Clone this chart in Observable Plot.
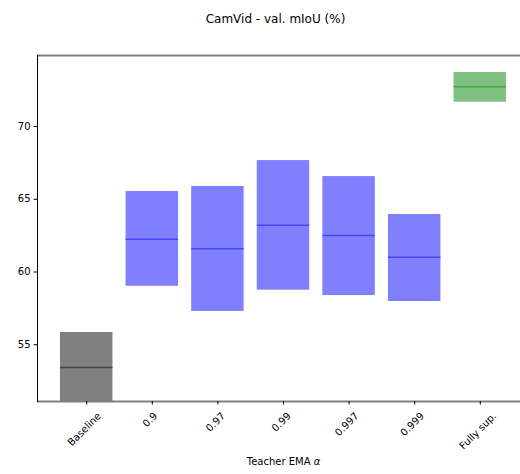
<!DOCTYPE html>
<html><head><meta charset="utf-8">
<script src="https://cdn.jsdelivr.net/npm/d3@7"></script>
<script src="https://cdn.jsdelivr.net/npm/@observablehq/plot@0.6"></script>
<style>body{margin:0;background:#fff;} svg{font-family:"DejaVu Sans";}</style>
</head><body><div id="chart"></div>
<script>
const categories = ["Baseline","0.9","0.97","0.99","0.997","0.999","Fully sup."];
const means = [53.44,62.25,61.59,63.22,62.51,61.02,72.73];
const lows  = [51.04,59.02,57.29,58.75,58.38,57.97,71.67];
const highs = [55.84,65.53,65.88,67.66,66.56,63.95,73.71];
const groups = ["baseline","ema","ema","ema","ema","ema","full"];
const yTicks = [55,60,65,70];
const yDomain = [51.1, 74.88];
const title = "CamVid - val. mIoU (%)";
const xLabel = "Teacher EMA ";
const xLabelSym = "α";

const fills = {baseline:"#808080", ema:"#8080ff", full:"#80c080"};
const lines = {baseline:"#454545", ema:"#4545ff", full:"#45a545"};
const data = categories.map((c,i)=>({cat:c, lo:lows[i], hi:highs[i], mid:means[i], g:groups[i]}));

const plot = Plot.plot({
  width: 520, height: 474,
  marginLeft: 37, marginRight: -9, marginTop: 55, marginBottom: 73,
  style: {fontFamily: "DejaVu Sans", fontSize: "10px", background: "#fff", color: "#000", overflow: "hidden"},
  x: {domain: categories, range: [37, 529], paddingInner: 0.2, paddingOuter: 0.35, round: false},
  y: {domain: yDomain},
  marks: [
    Plot.barY(data, {x:"cat", y1:"lo", y2:"hi", fill: d=>fills[d.g], clip: true}),
    Plot.tickY(data, {x:"cat", y:"mid", stroke: d=>lines[d.g], strokeWidth:1.5, clip: true}),
    Plot.ruleY(yDomain, {stroke:"#808080", strokeWidth:2}),
    Plot.frame({anchor:"left", stroke:"#000", strokeWidth:1}),
    Plot.axisY({ticks: yTicks, tickSize: 3.5, tickPadding: 3.5, label: null, fontSize: 10}),
    Plot.axisX({tickSize: 3.5, tickFormat: () => "", label: null}),
    Plot.text(categories, {x: d=>d, text: d=>d, frameAnchor:"bottom", rotate:-45, textAnchor:"middle", fontSize:10, className:"xlab"}),
    Plot.text([xLabel], {frameAnchor:"bottom", dy: 63, fontSize:10, className:"xtitle"}),
    Plot.text([title], {frameAnchor:"top", dx: -8, dy: -41, fontSize:12})
  ]
});
document.getElementById("chart").appendChild(plot);

// place rotated tick labels like matplotlib (bbox centered under tick)
const y0 = 412, H = 11.6;
d3.select(plot).selectAll(".xlab text").each(function() {
  const t = this.getAttribute("transform") || "";
  const m = /translate\(\s*([-\d.e]+)[ ,]+([-\d.e]+)\s*\)/.exec(t);
  const cx = m ? +m[1] : 0;
  const L = this.getComputedTextLength();
  const cy = y0 + (L + H) * 0.3536;
  this.setAttribute("transform", `translate(${cx},${cy}) rotate(-45)`);
});
// italic alpha in x label
d3.select(plot).selectAll(".xtitle text").each(function() {
  d3.select(this).append("tspan").attr("font-style","italic").text(xLabelSym);
});
</script></body></html>
